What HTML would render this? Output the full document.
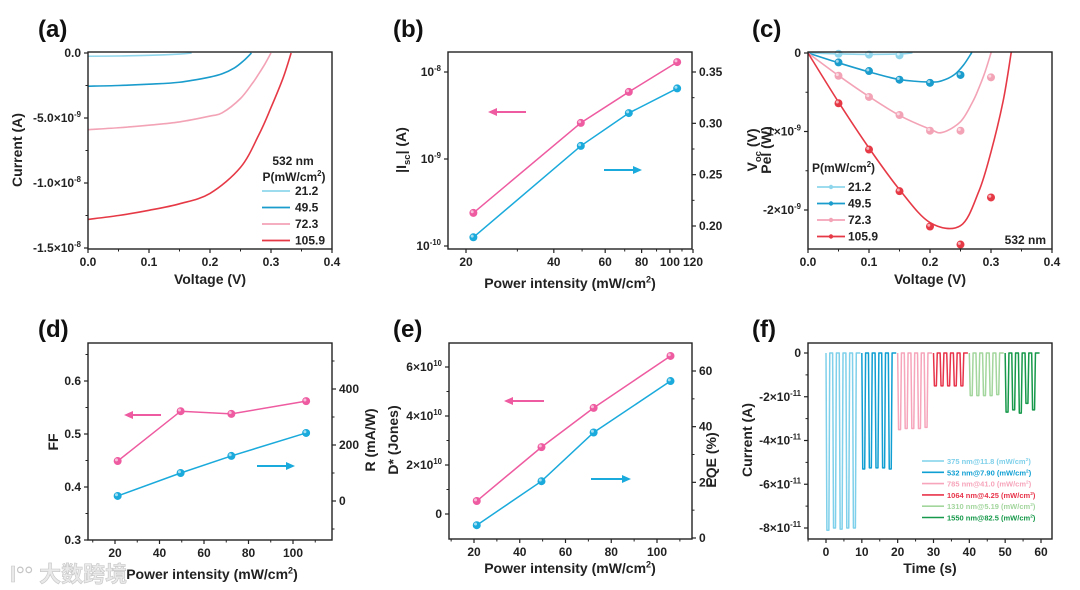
<!DOCTYPE html>
<html><head><meta charset="utf-8">
<style>
html,body{margin:0;padding:0;background:#fff;}
svg{display:block;font-family:"Liberation Sans",Arial,sans-serif;font-weight:bold;}
</style></head>
<body>
<svg id="fig" width="1080" height="590" viewBox="0 0 1080 590" xmlns="http://www.w3.org/2000/svg">
<rect x="0" y="0" width="1080" height="590" fill="#fff"/>
<defs>
<clipPath id="clipC"><rect x="808" y="52" width="244" height="197"/></clipPath>
<clipPath id="clipA"><rect x="88" y="52" width="244" height="197"/></clipPath>
</defs>
<g opacity="0.85">
<text x="10" y="582" font-size="22" fill="#e6e6e6" stroke="#bbb" stroke-width="0.6" font-family="'Liberation Sans','Noto Sans CJK SC',sans-serif">l<tspan font-size="14" dy="-8">○○</tspan><tspan dy="8" font-size="22"> 大数跨境</tspan></text>
</g>
</svg>
<script>
// ---------- DATA ----------
const seriesP = ["21.2","49.5","72.3","105.9"];
const ivV_21 = [0,0.05,0.1,0.15,0.17];
const ivI_21 = [-0.25,-0.23,-0.18,-0.08,0];
const ivV_49 = [0,0.05,0.1,0.15,0.2,0.22,0.24,0.255,0.268];
const ivI_49 = [-2.55,-2.5,-2.4,-2.25,-1.85,-1.6,-1.15,-0.6,0];
const ivV_72 = [0,0.05,0.1,0.15,0.2,0.22,0.25,0.27,0.28,0.29,0.30];
const ivI_72 = [-5.9,-5.75,-5.55,-5.3,-4.85,-4.6,-3.5,-2.3,-1.6,-0.85,0];
const ivV_105 = [0,0.05,0.1,0.15,0.2,0.25,0.28,0.3,0.32,0.333];
const ivI_105 = [-12.8,-12.5,-12.1,-11.6,-10.8,-8.8,-6.3,-4.2,-1.9,0];
const powerX = [21.2,49.5,72.3,105.9];
const iscA = [2.4e-10,2.6e-9,5.9e-9,1.30e-8];
const vocV = [0.189,0.278,0.310,0.334];
const pelV = [0.05,0.1,0.15,0.2,0.25,0.3];
const pel_21 = [-0.01,-0.02,-0.03,null,null,null];
const pel_49 = [-0.12,-0.23,-0.34,-0.38,-0.28,null];
const pel_72 = [-0.29,-0.56,-0.79,-0.99,-0.99,-0.31];
const pel_105 = [-0.64,-1.23,-1.76,-2.21,-2.44,-1.84];
const ffVals = [0.449,0.543,0.538,0.562];
const rVals = [18,100,161,243];
const dStar = [0.53e10,2.73e10,4.33e10,6.45e10];
const eqeVals = [4.6,20.4,37.9,56.4];
const fLabels = ["375 nm@11.8","532 nm@7.90","785 nm@41.0","1064 nm@4.25","1310 nm@5.19","1550 nm@82.5"];
const f375 = [-8.1,-8.0,-8.05,-8.0,-8.0];
const f532 = [-5.3,-5.25,-5.25,-5.25,-5.3];
const f785 = [-3.5,-3.45,-3.45,-3.45,-3.4];
const f1064 = [-1.5,-1.5,-1.5,-1.5,-1.5];
const f1310 = [-1.95,-1.95,-1.95,-1.95,-1.9];
const f1550 = [-2.7,-2.6,-2.75,-2.3,-2.6];

// ---------- HELPERS ----------
const NS="http://www.w3.org/2000/svg";
const svg=document.getElementById("fig");
function mk(tag,attrs,parent){const e=document.createElementNS(NS,tag);for(const k in attrs)e.setAttribute(k,attrs[k]);(parent||svg).appendChild(e);return e;}
function lin(d0,d1,r0,r1){return v=>r0+(v-d0)/(d1-d0)*(r1-r0);}
function lg(d0,d1,r0,r1){return v=>r0+(Math.log10(v)-Math.log10(d0))/(Math.log10(d1)-Math.log10(d0))*(r1-r0);}
function txt(parent,x,y,base,exp,anchor,size,fill,tail){
  size=size||12;
  const t=mk("text",{x:x,y:y,"text-anchor":anchor||"middle","font-size":size,fill:fill||"#222"},parent);
  t.appendChild(document.createTextNode(base));
  if(exp){const s=mk("tspan",{"font-size":size*0.65,dy:-size*0.4},t);s.textContent=exp;}
  if(tail){const s=mk("tspan",{dy:exp?size*0.4:0},t);s.textContent=tail;}
  return t;
}
function smooth(pts){
  if(pts.length<2)return "";
  let d="M"+pts[0][0]+","+pts[0][1];
  for(let i=0;i<pts.length-1;i++){
    const p0=pts[i-1]||pts[i],p1=pts[i],p2=pts[i+1],p3=pts[i+2]||p2;
    const c1=[p1[0]+(p2[0]-p0[0])/6,p1[1]+(p2[1]-p0[1])/6];
    const c2=[p2[0]-(p3[0]-p1[0])/6,p2[1]-(p3[1]-p1[1])/6];
    d+=" C"+c1[0]+","+c1[1]+" "+c2[0]+","+c2[1]+" "+p2[0]+","+p2[1];
  }
  return d;
}
function frame(g,x0,y0,x1,y1){mk("rect",{x:x0,y:y0,width:x1-x0,height:y1-y0,fill:"none",stroke:"#222","stroke-width":1.4},g);}
function xTicks(g,sx,y,vals,minor,labels,size){
  vals.forEach((v,i)=>{mk("line",{x1:sx(v),x2:sx(v),y1:y,y2:y+4,stroke:"#222","stroke-width":1.2},g);
    const l=labels[i];txt(g,sx(v),y+17,Array.isArray(l)?l[0]:l,Array.isArray(l)?l[1]:null,"middle",size||12);});
  minor.forEach(v=>mk("line",{x1:sx(v),x2:sx(v),y1:y,y2:y+2.5,stroke:"#222","stroke-width":1},g));
}
function yTicks(g,sy,x,vals,minor,labels,side,size){
  const dir=side==="r"?1:-1;
  vals.forEach((v,i)=>{mk("line",{x1:x,x2:x+4*dir,y1:sy(v),y2:sy(v),stroke:"#222","stroke-width":1.2},g);
    const l=labels[i];txt(g,x+dir*7,sy(v)+4,Array.isArray(l)?l[0]:l,Array.isArray(l)?l[1]:null,side==="r"?"start":"end",size||12);});
  minor.forEach(v=>mk("line",{x1:x,x2:x+2.5*dir,y1:sy(v),y2:sy(v),stroke:"#222","stroke-width":1},g));
}
// parts: [text, "sub"|"sup"|undefined]
function rtitle(g,x,y,parts,size){
  size=size||14;
  const t=mk("text",{x:0,y:0,"text-anchor":"middle","font-size":size,fill:"#222",transform:"translate("+x+","+y+") rotate(-90)"},g);
  let off=0;
  parts.forEach(p=>{
    let target=p[1]==="sub"?4:(p[1]==="sup"?-6:0);
    const a={dy:target-off};
    if(p[1])a["font-size"]=size*0.68;
    const s=mk("tspan",a,t);s.textContent=p[0];off=target;});
  return t;
}
function marker(g,x,y,c){mk("circle",{cx:x,cy:y,r:4,fill:c},g);mk("circle",{cx:x-1.2,cy:y-1.2,r:1.5,fill:"#fff",opacity:0.6},g);}
function arrow(g,x1,x2,y,c){mk("line",{x1:x1,x2:x2+(x2>x1?-7:7),y1:y,y2:y,stroke:c,"stroke-width":2},g);
  const d=x2>x1?1:-1;mk("polygon",{points:x2+","+y+" "+(x2-9*d)+","+(y-4)+" "+(x2-9*d)+","+(y+4),fill:c},g);}
function letter(x,y,s){const t=txt(svg,x,y,s,null,"start",24,"#111");}

const cA=["#8fd6ec","#1a9ccc","#f3a3b6","#e63946"];
const PINK="#ee5ba0", BLUE="#1aaadb";

// ---------- (a) ----------
letter(38,37,"(a)");
const gA=mk("g",{});


const xa=lin(0,0.4,88,332), ya=lin(0,-15,53,248);
const ivSets=[[ivV_21,ivI_21],[ivV_49,ivI_49],[ivV_72,ivI_72],[ivV_105,ivI_105]];
ivSets.forEach((s,k)=>{const p=mk("path",{d:smooth(s[0].map((v,i)=>[xa(v),ya(s[1][i])])),fill:"none",stroke:cA[k],"stroke-width":1.6,"clip-path":"url(#clipA)"},gA);
  
  });
frame(gA,88,52,332,249);
xTicks(gA,xa,249,[0,0.1,0.2,0.3,0.4],[0.05,0.15,0.25,0.35],["0.0","0.1","0.2","0.3","0.4"]);
yTicks(gA,ya,88,[0,-5,-10,-15],[-2.5,-7.5,-12.5],["0.0",["-5.0×10","-9"],["-1.0×10","-8"],["-1.5×10","-8"]],"l");
txt(gA,210,284,"Voltage (V)",null,"middle",14);
rtitle(gA,22,150,[["Current (A)"]],14);
const legA=mk("g",{},gA);


txt(legA,293,165,"532 nm",null,"middle",12);
txt(legA,294,181,"P(mW/cm","2","middle",12,null,")");
seriesP.forEach((p,k)=>{const y=195+k*16.5;mk("line",{x1:262,x2:290,y1:y-4,y2:y-4,stroke:cA[k],"stroke-width":1.8},legA);txt(legA,295,y,p,null,"start",12);});

// ---------- (b) ----------
letter(393,37,"(b)");
const gB=mk("g",{});


const xb=lg(20,120,466,693), yb=lg(1e-10,1e-8,246,72), yb2=lin(0.20,0.35,226,72);
frame(gB,448,52,692,249);
xTicks(gB,xb,249,[20,40,60,80,100,120],[30,50,70,90,110],["20","40","60","80","100","120"]);
yTicks(gB,yb,448,[1e-10,1e-9,1e-8],[],[["10","-10"],["10","-9"],["10","-8"]],"l");
yTicks(gB,yb2,692,[0.20,0.25,0.30,0.35],[0.225,0.275,0.325],["0.20","0.25","0.30","0.35"],"r");
const pb1=mk("path",{d:"M"+powerX.map((v,i)=>xb(v)+","+yb(iscA[i])).join(" L"),fill:"none",stroke:PINK,"stroke-width":1.5},gB);


const pb2=mk("path",{d:"M"+powerX.map((v,i)=>xb(v)+","+yb2(vocV[i])).join(" L"),fill:"none",stroke:BLUE,"stroke-width":1.5},gB);


powerX.forEach((v,i)=>{marker(gB,xb(v),yb(iscA[i]),PINK);marker(gB,xb(v),yb2(vocV[i]),BLUE);});
arrow(gB,526,488,112,PINK);arrow(gB,604,642,170,BLUE);
txt(gB,570,288,"Power  intensity (mW/cm","2","middle",14,null,")");
rtitle(gB,406,150,[["|I"],["sc","sub"],["| (A)"]],14);
rtitle(gB,757,150,[["V"],["oc","sub"],[" (V)"]],14);

// ---------- (c) ----------
letter(752,37,"(c)");
const gC=mk("g",{});


const xc=lin(0,0.4,808,1052), yc=lin(0,-2,53,210);
const pelSets=[pel_21,pel_49,pel_72,pel_105];
ivSets.forEach((s,k)=>{const pts=s[0].map((v,i)=>[xc(v),yc(v*s[1][i])]);
  const p=mk("path",{d:smooth(pts)+" L"+xc(s[0][s[0].length-1]+0.005)+",40",fill:"none",stroke:cA[k],"stroke-width":1.6,"clip-path":"url(#clipC)"},gC);
  
  
  pelSets[k].forEach((v,i)=>{if(v!==null)marker(gC,xc(pelV[i]),yc(v),cA[k]);});});
frame(gC,808,52,1052,249);
xTicks(gC,xc,249,[0,0.1,0.2,0.3,0.4],[0.05,0.15,0.25,0.35],["0.0","0.1","0.2","0.3","0.4"]);
yTicks(gC,yc,808,[0,-1,-2],[-0.5,-1.5],["0",["-1×10","-9"],["-2×10","-9"]],"l");
txt(gC,930,284,"Voltage (V)",null,"middle",14);
rtitle(gC,771,150,[["Pel (W)"]],14);
const legC=mk("g",{},gC);


txt(legC,812,172,"P(mW/cm","2","start",12,null,")");
seriesP.forEach((p,k)=>{const y=191+k*16.5;mk("line",{x1:817,x2:845,y1:y-4,y2:y-4,stroke:cA[k],"stroke-width":1.8},legC);mk("circle",{cx:831,cy:y-4,r:2.2,fill:cA[k]},legC);txt(legC,848,y,p,null,"start",12);});
txt(gC,1046,244,"532 nm",null,"end",12);

// ---------- (d) ----------
letter(38,337,"(d)");
const gD=mk("g",{});


const xd=lin(20,100,115,293), yd=lin(0.3,0.6,540,381), yd2=lin(0,400,501,389);
frame(gD,88,343,332,540);
xTicks(gD,xd,540,[20,40,60,80,100],[10,30,50,70,90,110],["20","40","60","80","100"]);
yTicks(gD,yd,88,[0.3,0.4,0.5,0.6],[0.35,0.45,0.55,0.65],["0.3","0.4","0.5","0.6"],"l");
yTicks(gD,yd2,332,[0,200,400],[-100,100,300,500],["0","200","400"],"r");
const pd1=mk("path",{d:"M"+powerX.map((v,i)=>xd(v)+","+yd(ffVals[i])).join(" L"),fill:"none",stroke:PINK,"stroke-width":1.5},gD);


const pd2=mk("path",{d:"M"+powerX.map((v,i)=>xd(v)+","+yd2(rVals[i])).join(" L"),fill:"none",stroke:BLUE,"stroke-width":1.5},gD);


powerX.forEach((v,i)=>{marker(gD,xd(v),yd(ffVals[i]),PINK);marker(gD,xd(v),yd2(rVals[i]),BLUE);});
arrow(gD,161,124,415,PINK);arrow(gD,257,295,466,BLUE);
txt(gD,212,579,"Power intensity (mW/cm","2","middle",14,null,")");
rtitle(gD,58,442,[["FF"]],14);
rtitle(gD,375,440,[["R (mA/W)"]],14);

// ---------- (e) ----------
letter(393,337,"(e)");
const gE=mk("g",{});


const xe=lin(20,100,474,657), ye=lin(0,6e10,514,367), ye2=lin(0,60,538,371);
frame(gE,449,343,692,539);
xTicks(gE,xe,539,[20,40,60,80,100],[10,30,50,70,90,110],["20","40","60","80","100"]);
yTicks(gE,ye,449,[0,2e10,4e10,6e10],[1e10,3e10,5e10],["0",["2×10","10"],["4×10","10"],["6×10","10"]],"l");
yTicks(gE,ye2,692,[0,20,40,60],[10,30,50],["0","20","40","60"],"r");
const pe1=mk("path",{d:"M"+powerX.map((v,i)=>xe(v)+","+ye(dStar[i])).join(" L"),fill:"none",stroke:PINK,"stroke-width":1.5},gE);


const pe2=mk("path",{d:"M"+powerX.map((v,i)=>xe(v)+","+ye2(eqeVals[i])).join(" L"),fill:"none",stroke:BLUE,"stroke-width":1.5},gE);


powerX.forEach((v,i)=>{marker(gE,xe(v),ye(dStar[i]),PINK);marker(gE,xe(v),ye2(eqeVals[i]),BLUE);});
arrow(gE,544,504,401,PINK);arrow(gE,591,631,479,BLUE);
txt(gE,570,573,"Power intensity (mW/cm","2","middle",14,null,")");
rtitle(gE,398,440,[["D* (Jones)"]],14);
rtitle(gE,716,460,[["EQE (%)"]],14);

// ---------- (f) ----------
letter(752,337,"(f)");
const gF=mk("g",{});


const xf=lin(0,60,826,1041), yf=lin(0,-8,353,528);
const fSets=[f375,f532,f785,f1064,f1310,f1550];
const fCol=["#7fd0ea","#109fd2","#f6a5bb","#e8344a","#a3d69d","#16994a"];
fSets.forEach((lv,s)=>{let d="M"+xf(s*10)+","+yf(0);
  lv.forEach((L,k)=>{const t0=s*10+k*1.85;d+=" L"+xf(t0)+","+yf(0)+" L"+xf(t0+0.25)+","+yf(L)+" L"+xf(t0+0.8)+","+yf(L)+" L"+xf(t0+1.05)+","+yf(0);});
  d+=" L"+xf(s*10+9.6)+","+yf(0);
  const p=mk("path",{d:d,fill:"none",stroke:fCol[s],"stroke-width":1.5,"stroke-linejoin":"round"},gF);
  
  });
frame(gF,808,343,1052,539);
xTicks(gF,xf,539,[0,10,20,30,40,50,60],[-5,5,15,25,35,45,55],["0","10","20","30","40","50","60"]);
yTicks(gF,yf,808,[0,-2,-4,-6,-8],[-1,-3,-5,-7],["0",["-2×10","-11"],["-4×10","-11"],["-6×10","-11"],["-8×10","-11"]],"l");
txt(gF,930,573,"Time (s)",null,"middle",14);
rtitle(gF,752,440,[["Current (A)"]],14);
const legF=mk("g",{},gF);


fLabels.forEach((l,k)=>{const y=464+k*11.3;mk("line",{x1:922,x2:944,y1:y-3,y2:y-3,stroke:fCol[k],"stroke-width":1.6},legF);
  txt(legF,947,y,l+" (mW/cm","2","start",7.5,fCol[k],")");});
</script>
</body></html>
